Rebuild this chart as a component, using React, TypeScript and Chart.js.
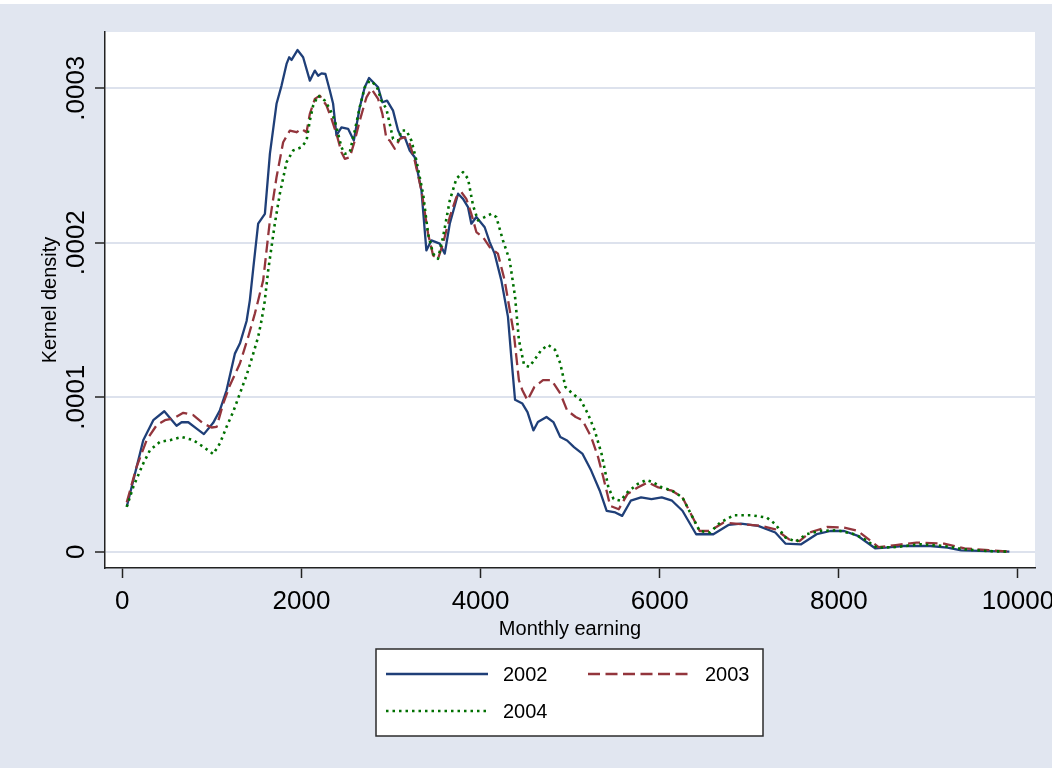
import React, { useEffect, useRef } from "react";
import { Chart, registerables } from "chart.js";

Chart.register(...registerables);

// ---------- data ----------
const seriesNames = ["2002", "2003", "2004"];

const earn2002 = [50, 234, 346, 469, 606, 662, 737, 830, 911, 1015, 1090, 1164, 1257, 1313, 1388, 1424, 1462, 1517, 1592, 1648, 1722, 1778, 1834, 1863, 1890, 1956, 2019, 2094, 2150, 2186, 2224, 2268, 2317, 2354, 2391, 2447, 2521, 2585, 2651, 2707, 2755, 2856, 2904, 2956, 3023, 3079, 3116, 3153, 3209, 3265, 3340, 3395, 3451, 3544, 3600, 3656, 3749, 3804, 3860, 3897, 3953, 4046, 4102, 4157, 4232, 4306, 4340, 4385, 4467, 4524, 4590, 4640, 4736, 4813, 4890, 4966, 5043, 5139, 5235, 5331, 5408, 5504, 5581, 5677, 5792, 5908, 6023, 6138, 6254, 6407, 6599, 6772, 6907, 7099, 7291, 7406, 7579, 7752, 7906, 8060, 8213, 8405, 8521, 8713, 9020, 9212, 9366, 9673, 9904];
const dens2002 = [0.0000291, 0.0000722, 0.0000851, 0.0000909, 0.0000815, 0.0000838, 0.0000838, 0.0000797, 0.0000761, 0.0000834, 0.0000916, 0.0001045, 0.0001282, 0.0001347, 0.0001493, 0.0001627, 0.0001832, 0.0002123, 0.0002187, 0.0002575, 0.0002899, 0.0003017, 0.0003157, 0.00032, 0.0003183, 0.0003247, 0.00032, 0.0003049, 0.0003114, 0.0003081, 0.0003096, 0.0003092, 0.0002985, 0.0002899, 0.0002694, 0.0002747, 0.0002737, 0.0002661, 0.0002877, 0.0003006, 0.0003066, 0.0003006, 0.0002909, 0.000292, 0.0002855, 0.0002726, 0.0002683, 0.0002683, 0.0002597, 0.0002553, 0.0002338, 0.000195, 0.0002015, 0.0001994, 0.0001929, 0.0002123, 0.0002317, 0.0002284, 0.000223, 0.0002123, 0.0002166, 0.00021, 0.0002004, 0.0001929, 0.0001756, 0.000152, 0.000128, 0.0000983, 0.0000959, 0.0000904, 0.0000785, 0.0000839, 0.0000872, 0.0000839, 0.0000742, 0.000072, 0.0000677, 0.0000633, 0.0000525, 0.0000395, 0.0000265, 0.0000254, 0.0000232, 0.000033, 0.0000351, 0.0000341, 0.0000351, 0.000033, 0.0000265, 0.0000113, 0.0000113, 0.0000174, 0.0000182, 0.0000167, 0.0000124, 0.0000052, 0.0000048, 0.0000113, 0.0000134, 0.0000134, 0.0000102, 0.0000022, 0.0000026, 0.0000037, 0.0000037, 0.0000026, 0.0000009, 0.0000004, 0.0];

const earn2003 = [50, 160, 272, 384, 476, 569, 681, 792, 904, 997, 1053, 1127, 1202, 1313, 1406, 1480, 1573, 1648, 1722, 1796, 1871, 1945, 2001, 2057, 2094, 2150, 2205, 2280, 2336, 2391, 2447, 2484, 2540, 2596, 2651, 2726, 2782, 2856, 2904, 2949, 2986, 3042, 3098, 3153, 3209, 3265, 3340, 3414, 3470, 3525, 3581, 3656, 3730, 3786, 3841, 3897, 3953, 4027, 4102, 4194, 4269, 4330, 4371, 4428, 4467, 4524, 4601, 4697, 4793, 4890, 4966, 5062, 5139, 5235, 5312, 5370, 5447, 5543, 5639, 5754, 5869, 5985, 6138, 6254, 6369, 6446, 6561, 6715, 6907, 7137, 7291, 7445, 7560, 7675, 7867, 8060, 8213, 8444, 8636, 8867, 9174, 9404, 9673, 9904];
const dens2003 = [0.000032, 0.000055, 0.0000722, 0.0000819, 0.0000851, 0.0000862, 0.0000899, 0.0000884, 0.000083, 0.0000804, 0.0000808, 0.0000959, 0.0001078, 0.0001218, 0.000139, 0.0001541, 0.0001756, 0.0002144, 0.0002424, 0.000265, 0.0002726, 0.0002715, 0.0002737, 0.0002715, 0.0002834, 0.0002931, 0.0002952, 0.0002888, 0.0002802, 0.0002705, 0.0002586, 0.0002543, 0.0002553, 0.0002661, 0.000279, 0.0002941, 0.0002995, 0.0002931, 0.0002834, 0.0002672, 0.0002661, 0.0002608, 0.0002672, 0.0002683, 0.000264, 0.0002532, 0.0002338, 0.0002058, 0.0001918, 0.0001896, 0.0001994, 0.0002166, 0.0002295, 0.0002327, 0.0002284, 0.0002187, 0.0002069, 0.0002036, 0.0001972, 0.0001929, 0.0001756, 0.000155, 0.0001414, 0.000111, 0.0001045, 0.000098, 0.0001067, 0.000111, 0.000111, 0.0001024, 0.0000915, 0.0000872, 0.000085, 0.0000742, 0.0000612, 0.0000482, 0.0000297, 0.0000275, 0.0000373, 0.0000416, 0.0000449, 0.0000416, 0.0000395, 0.0000351, 0.0000221, 0.0000134, 0.0000134, 0.0000189, 0.0000178, 0.0000167, 0.0000145, 0.000008, 0.0000069, 0.0000124, 0.000016, 0.0000156, 0.0000134, 0.000003, 0.0000043, 0.0000059, 0.0000052, 0.0000022, 0.000001, 0.0];

const earn2004 = [50, 123, 234, 309, 421, 532, 662, 792, 904, 1015, 1090, 1164, 1238, 1313, 1388, 1462, 1517, 1555, 1590, 1629, 1703, 1759, 1834, 1908, 2001, 2057, 2094, 2131, 2186, 2261, 2317, 2373, 2410, 2447, 2484, 2540, 2596, 2651, 2707, 2763, 2838, 2893, 2949, 3023, 3079, 3116, 3172, 3228, 3284, 3358, 3414, 3470, 3525, 3581, 3656, 3730, 3804, 3860, 3916, 3971, 4046, 4120, 4176, 4250, 4325, 4385, 4428, 4486, 4544, 4601, 4678, 4755, 4832, 4890, 4947, 5024, 5120, 5197, 5274, 5351, 5427, 5485, 5562, 5639, 5754, 5850, 5927, 6023, 6138, 6254, 6369, 6446, 6561, 6676, 6830, 7022, 7195, 7291, 7406, 7522, 7637, 7791, 7983, 8175, 8290, 8425, 8636, 8905, 9174, 9404, 9673, 9904];
const dens2004 = [0.000029, 0.000042, 0.0000571, 0.0000657, 0.0000711, 0.0000722, 0.0000743, 0.0000722, 0.0000679, 0.0000632, 0.0000701, 0.0000808, 0.0000905, 0.0001024, 0.0001142, 0.0001282, 0.000139, 0.0001498, 0.000162, 0.0001821, 0.0002123, 0.0002317, 0.0002521, 0.0002597, 0.0002618, 0.0002661, 0.000279, 0.0002888, 0.0002952, 0.000292, 0.0002866, 0.000279, 0.0002705, 0.0002618, 0.0002575, 0.0002586, 0.0002726, 0.0002877, 0.0003006, 0.0003049, 0.0003017, 0.000292, 0.0002866, 0.0002672, 0.0002661, 0.0002726, 0.0002726, 0.0002661, 0.0002532, 0.0002317, 0.0002058, 0.0001929, 0.0001896, 0.0002036, 0.0002273, 0.0002414, 0.0002457, 0.0002414, 0.0002241, 0.0002144, 0.0002166, 0.0002187, 0.0002166, 0.0002015, 0.0001886, 0.000165, 0.0001371, 0.0001208, 0.0001197, 0.0001241, 0.0001306, 0.0001338, 0.0001306, 0.0001219, 0.0001067, 0.0001024, 0.000098, 0.0000894, 0.0000785, 0.0000633, 0.0000416, 0.0000341, 0.000033, 0.0000384, 0.0000438, 0.0000464, 0.0000449, 0.0000416, 0.0000395, 0.0000351, 0.0000221, 0.0000134, 0.0000124, 0.0000189, 0.0000236, 0.0000236, 0.0000221, 0.0000178, 0.0000091, 0.0000065, 0.0000113, 0.0000134, 0.0000139, 0.0000113, 0.000008, 0.0000026, 0.000003, 0.0000048, 0.0000037, 0.0000015, 0.0000004, 0.0];

const xTickValues = [0, 2000, 4000, 6000, 8000, 10000];
const xTickLabels = ["0", "2000", "4000", "6000", "8000", "10000"];
const yTickValues = [0, 0.0001, 0.0002, 0.0003];
const yTickLabels = ["0", ".0001", ".0002", ".0003"];

const xTitle = "Monthly earning";
const yTitle = "Kernel density";

// ---------- styling ----------
const W = 1052;
const H = 768;
const BG = "rgb(225,230,240)";
const GRID = "rgb(221,226,237)";
const FONT = "'Liberation Sans', Arial, sans-serif";
const colors = ["#1f3f78", "#93353c", "#007000"];
const dashes: number[][] = [[], [12, 5.5], [2.5, 4]];
const widths = [2.3, 2.3, 2.6];

function toPoints(xs: number[], ys: number[]) {
  return xs.map((x, i) => ({ x, y: ys[i] }));
}

const decorPlugin = {
  id: "stataDecor",
  beforeDraw(chart: any) {
    const ctx = chart.ctx;
    const a = chart.chartArea;
    ctx.save();
    ctx.fillStyle = "#ffffff";
    ctx.fillRect(0, 0, W, H);
    ctx.fillStyle = BG;
    ctx.fillRect(0, 4, W, H - 4);
    ctx.fillStyle = "#ffffff";
    ctx.fillRect(a.left, a.top, a.right - a.left, a.bottom - a.top);
    ctx.restore();
  },
  afterDraw(chart: any) {
    const ctx = chart.ctx;
    const xs = chart.scales.x;
    const ys = chart.scales.y;
    const a = chart.chartArea;
    ctx.save();
    ctx.fillStyle = "#000";
    // y tick labels (rotated)
    ctx.font = `26px ${FONT}`;
    ctx.textAlign = "center";
    ctx.textBaseline = "alphabetic";
    yTickValues.forEach((v, i) => {
      const py = ys.getPixelForValue(v);
      ctx.save();
      ctx.translate(83.5, py);
      ctx.rotate(-Math.PI / 2);
      ctx.fillText(yTickLabels[i], 0, 0);
      ctx.restore();
    });
    // x tick labels
    xTickValues.forEach((v, i) => {
      const px = xs.getPixelForValue(v);
      ctx.fillText(xTickLabels[i], px, 609);
    });
    // axis titles
    ctx.font = `20px ${FONT}`;
    ctx.fillText(xTitle, (a.left + a.right) / 2, 635);
    ctx.save();
    ctx.translate(56, (a.top + a.bottom) / 2);
    ctx.rotate(-Math.PI / 2);
    ctx.fillText(yTitle, 0, 0);
    ctx.restore();

    // legend
    const bx = 376, by = 649, bw = 387, bh = 87;
    ctx.fillStyle = "#ffffff";
    ctx.fillRect(bx, by, bw, bh);
    ctx.strokeStyle = "#2b2b2b";
    ctx.lineWidth = 1.5;
    ctx.strokeRect(bx, by, bw, bh);
    const entries = [
      { i: 0, x: 386, y: 674 },
      { i: 1, x: 588, y: 674 },
      { i: 2, x: 386, y: 711 },
    ];
    ctx.font = `20px ${FONT}`;
    ctx.textAlign = "left";
    ctx.textBaseline = "middle";
    entries.forEach((e) => {
      const ds = chart.data.datasets[e.i];
      ctx.save();
      ctx.strokeStyle = ds.borderColor;
      ctx.lineWidth = ds.borderWidth;
      ctx.setLineDash(ds.borderDash || []);
      ctx.beginPath();
      ctx.moveTo(e.x, e.y);
      ctx.lineTo(e.x + 102, e.y);
      ctx.stroke();
      ctx.restore();
      ctx.fillStyle = "#000";
      ctx.fillText(ds.label, e.x + 117, e.y + 1);
    });
    ctx.restore();
  },
};

export default function App() {
  const ref = useRef<HTMLCanvasElement | null>(null);
  useEffect(() => {
    if (!ref.current) return;
    const pts = [toPoints(earn2002, dens2002), toPoints(earn2003, dens2003), toPoints(earn2004, dens2004)];
    const chart = new Chart(ref.current, {
      type: "line",
      data: {
        datasets: seriesNames.map((name, i) => ({
          label: name,
          data: pts[i],
          borderColor: colors[i],
          borderWidth: widths[i],
          borderDash: dashes[i],
          borderCapStyle: "butt",
          borderJoinStyle: "round",
          pointRadius: 0,
          tension: 0,
          fill: false,
          order: 3 - i,
        })),
      },
      options: {
        animation: false,
        responsive: false,
        maintainAspectRatio: false,
        devicePixelRatio: 1,
        layout: { padding: { left: 0, right: W - 1035, top: 32, bottom: 0 } },
        plugins: { legend: { display: false }, tooltip: { enabled: false }, title: { display: false } },
        scales: {
          x: {
            type: "linear",
            min: -193,
            max: 10190,
            afterBuildTicks: (s: any) => {
              s.ticks = xTickValues.map((v) => ({ value: v }));
            },
            afterFit: (s: any) => {
              s.height = H - 568;
            },
            ticks: { display: false },
            grid: {
              drawOnChartArea: false,
              drawTicks: true,
              tickLength: 10,
              tickColor: "#222",
              tickWidth: 1.5,
            },
            border: { display: true, color: "#222", width: 1.5 },
          },
          y: {
            type: "linear",
            min: -0.00001055,
            max: 0.00033638,
            afterBuildTicks: (s: any) => {
              s.ticks = yTickValues.map((v) => ({ value: v }));
            },
            afterFit: (s: any) => {
              s.width = 105;
            },
            ticks: { display: false },
            grid: {
              drawOnChartArea: true,
              color: GRID,
              lineWidth: 2,
              drawTicks: true,
              tickLength: 10,
              tickColor: "#222",
              tickWidth: 1.5,
            },
            border: { display: true, color: "#222", width: 1.5 },
          },
        },
      } as any,
      plugins: [decorPlugin],
    });
    return () => chart.destroy();
  }, []);

  return (
    <div style={{ position: "absolute", left: 0, top: 0, width: W, height: H }}>
      <canvas ref={ref} width={W} height={H} style={{ display: "block", width: W, height: H }} />
    </div>
  );
}
